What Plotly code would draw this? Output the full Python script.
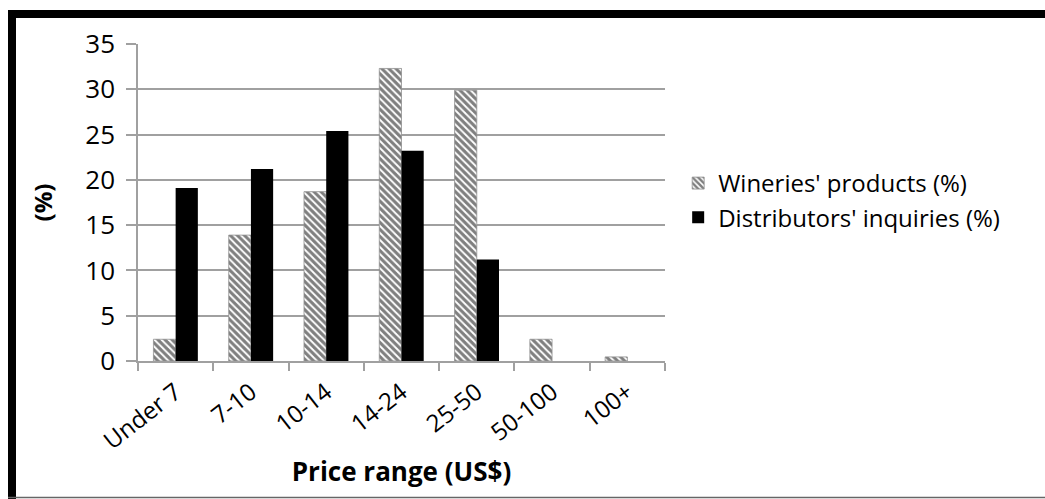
import plotly.graph_objects as go

# Price bands and the two percentage series
categories = ["Under 7", "7-10", "10-14", "14-24", "25-50", "50-100", "100+"]
wineries_products = [2.4, 13.9, 18.7, 32.3, 29.9, 2.4, 0.45]
distributors_inquiries = [19.1, 21.2, 25.4, 23.2, 11.2, 0, 0]
y_ticks = [0, 5, 10, 15, 20, 25, 30, 35]

W, H = 1045, 499
ML, MR, MT, MB = 138, 380, 44, 138
PW, PH = W - ML - MR, H - MT - MB


def px_x(p):
    return (p - ML) / PW


def px_y(p):
    return (H - MB - p) / PH


FONT = "Open Sans"
FS = 24
GRID = "#a0a0a0"

fig = go.Figure()
fig.add_trace(go.Bar(
    x=categories, y=wineries_products, name="Wineries' products (%)",
    marker=dict(color="white",
                pattern=dict(shape="\\", fgcolor="black", bgcolor="white",
                             size=5, solidity=0.62),
                line=dict(color="#909090", width=0.8)),
))
fig.add_trace(go.Bar(
    x=categories, y=distributors_inquiries, name="Distributors' inquiries (%)",
    marker=dict(color="black", line=dict(width=0)),
))

fig.update_layout(
    width=W, height=H,
    margin=dict(l=ML, r=MR, t=MT, b=MB, autoexpand=False),
    paper_bgcolor="white", plot_bgcolor="white",
    barmode="group", bargap=0.41, bargroupgap=0,
    font=dict(family=FONT, size=FS, color="black"),
    showlegend=True,
    legend=dict(x=1.025, y=px_y(161), xanchor="left", yanchor="top",
                font=dict(family=FONT, size=FS, color="black"),
                bgcolor="rgba(0,0,0,0)", tracegroupgap=0),
    xaxis=dict(
        type="category", tickangle=-38, showgrid=False,
        showline=True, linecolor=GRID, linewidth=1.5,
        ticks="outside", tickson="boundaries", ticklen=8, tickcolor=GRID,
        tickwidth=1.5, tickfont=dict(family=FONT, size=FS),
        ticklabelstandoff=6,
        title=dict(text="<b>Price range (US$)</b>", standoff=8,
                   font=dict(family=FONT, size=26)),
        automargin=False,
    ),
    yaxis=dict(
        range=[0, 35], tickvals=y_ticks, showgrid=True, gridcolor=GRID,
        gridwidth=1.5, showline=True, linecolor=GRID, linewidth=1.5,
        ticks="outside", ticklen=10, tickcolor=GRID, tickwidth=1.5,
        tickfont=dict(family=FONT, size=26), ticklabelstandoff=6,
        zeroline=False,
        title=dict(text="<b>(%)</b>", standoff=26,
                   font=dict(family=FONT, size=FS)),
        automargin=False,
    ),
    shapes=[
        # heavy frame along the top and left edges
        dict(type="rect", xref="paper", yref="paper",
             x0=px_x(8), x1=px_x(W + 5), y0=px_y(18), y1=px_y(10),
             fillcolor="black", line=dict(width=0), layer="above"),
        dict(type="rect", xref="paper", yref="paper",
             x0=px_x(8), x1=px_x(16), y0=px_y(H + 5), y1=px_y(10),
             fillcolor="black", line=dict(width=0), layer="above"),
        # thin rule along the bottom edge
        dict(type="line", xref="paper", yref="paper",
             x0=px_x(8), x1=px_x(W + 5), y0=px_y(497.5), y1=px_y(497.5),
             line=dict(color="#666666", width=1.5), layer="above"),
    ],
)

fig.write_html("out.html")
